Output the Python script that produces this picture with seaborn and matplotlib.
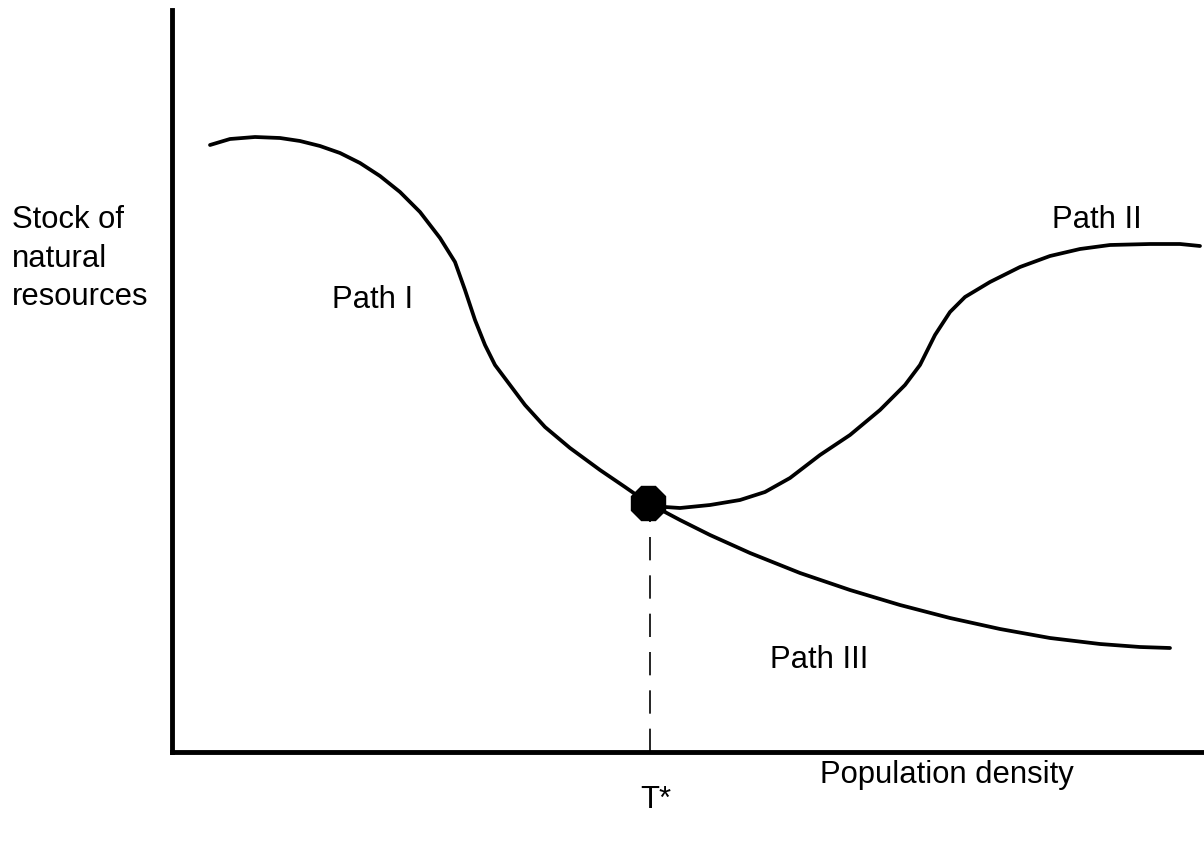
import seaborn as sns
import matplotlib.pyplot as plt
import pandas as pd

# schematic curves (x: population density, y: stock of resources)
path1_x = [38, 58, 83, 108, 128, 148, 168, 188, 208, 228, 248, 268, 283, 293, 303, 313, 323, 338, 353, 373, 398, 428, 453, 476]
path1_y = [607, 613, 615, 614, 611, 606, 599, 589, 576, 560, 540, 514, 490, 462, 432, 407, 387, 367, 347, 325, 304, 282, 265, 249]
path2_x = [476, 493, 508, 538, 568, 593, 618, 648, 678, 708, 733, 748, 763, 778, 793, 818, 848, 878, 908, 938, 978, 1008, 1028]
path2_y = [249, 245, 244, 247, 252, 260, 274, 297, 317, 342, 367, 387, 417, 440, 455, 470, 485, 496, 503, 507, 508, 508, 506]
path3_x = [476, 508, 538, 578, 628, 678, 728, 778, 828, 878, 928, 968, 998]
path3_y = [249, 232, 217, 199, 179, 162, 147, 134, 123, 114, 108, 105, 104]
t_star = 478
eq_y = 249

df = pd.concat([
    pd.DataFrame({'x': path1_x, 'y': path1_y, 'path': 'I'}),
    pd.DataFrame({'x': path2_x, 'y': path2_y, 'path': 'II'}),
    pd.DataFrame({'x': path3_x, 'y': path3_y, 'path': 'III'}),
])

sns.set_style('white')
plt.rcParams['font.family'] = ['Liberation Sans', 'DejaVu Sans']
plt.rcParams['text.color'] = 'black'

fig = plt.figure(figsize=(12.04, 8.42), dpi=100)
ax = fig.add_axes([172 / 1204, 90 / 842, 1032 / 1204, 742 / 842])

sns.lineplot(data=df, x='x', y='y', units='path', estimator=None, sort=False,
             color='black', linewidth=2.7, ax=ax)
ax.plot([t_star, t_star], [0, eq_y - 14], color='black', linewidth=1.2,
        dashes=(14, 9))
ax.plot([t_star - 2], [eq_y], marker='8', markersize=26, color='black')

ax.set_xlim(0, 1032)
ax.set_ylim(0, 742)
ax.set_xticks([])
ax.set_yticks([])
ax.set_xlabel('')
ax.set_ylabel('')
for s in ['top', 'right']:
    ax.spines[s].set_visible(False)
for s in ['left', 'bottom']:
    ax.spines[s].set_linewidth(3.5)
    ax.spines[s].set_color('black')

fs = 22.3
fig.text(12 / 1204, 1 - 205 / 842, 'Stock of\nnatural\nresources', fontsize=fs,
         va='top', ha='left', linespacing=1.38)
ax.text(160, 452, 'Path I', fontsize=fs, va='center', ha='left')
ax.text(880, 532, 'Path II', fontsize=fs, va='center', ha='left')
ax.text(598, 92, 'Path III', fontsize=fs, va='center', ha='left')
fig.text(820 / 1204, 1 - 775 / 842, 'Population density', fontsize=fs,
         va='center', ha='left')
fig.text(640 / 1204, 1 - 800 / 842, 'T*', fontsize=fs, va='center', ha='left')

fig.savefig('out.png', dpi=100)
